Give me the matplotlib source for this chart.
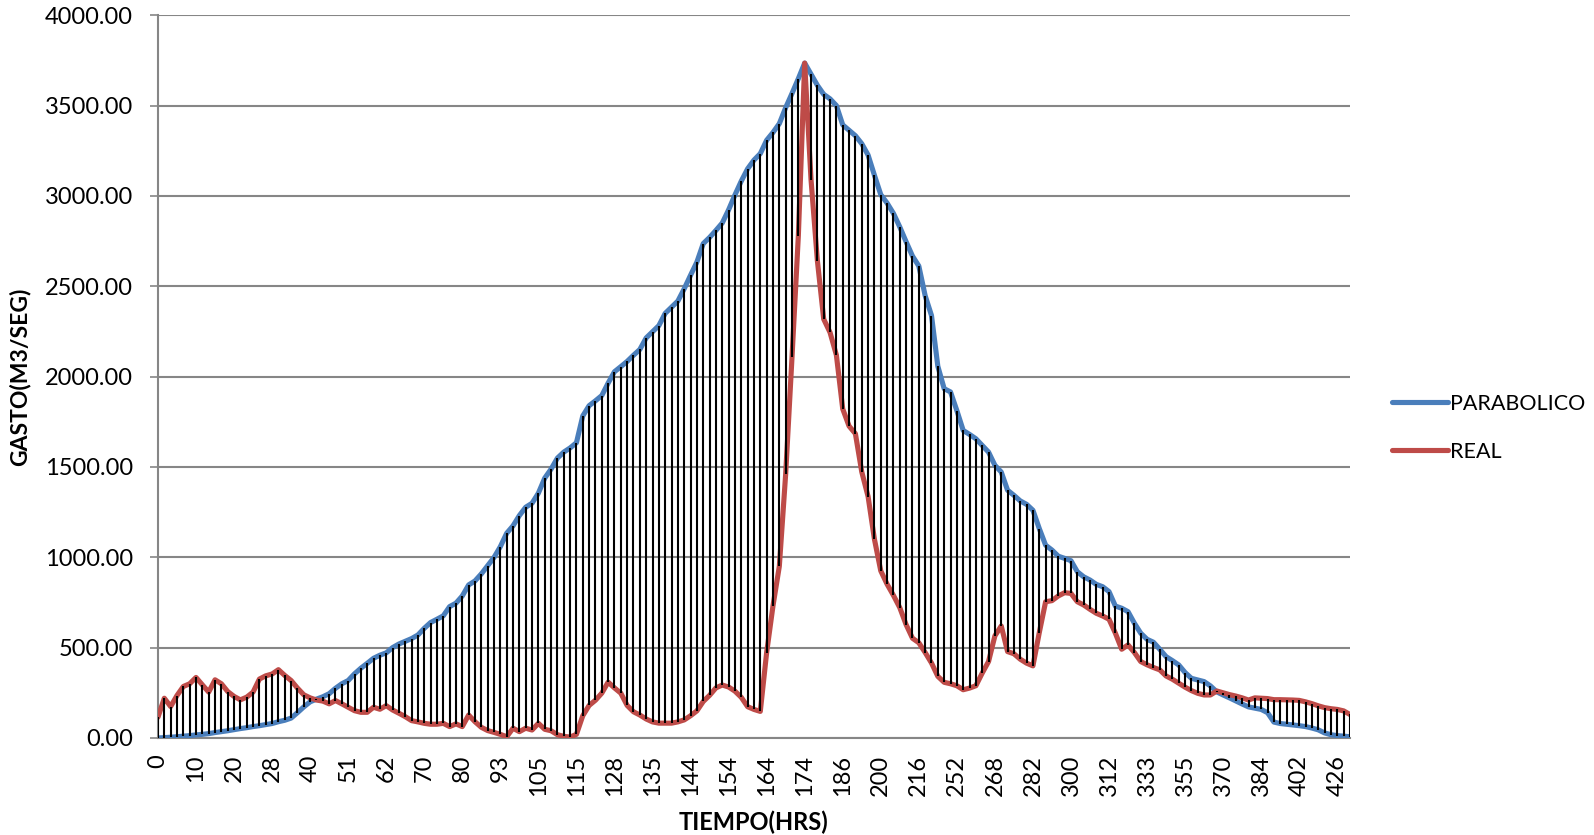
import matplotlib
matplotlib.use("Agg")
import matplotlib.pyplot as plt
import numpy as np

# x tick labels (hours), one label every 6 categories
TICK_LABELS = [0, 10, 20, 28, 40, 51, 62, 70, 80, 93, 105, 115, 128, 135, 144, 154,
               164, 174, 186, 200, 216, 252, 268, 282, 300, 312, 333, 355, 370, 384,
               402, 426]
TICK_STEP = 6

# GASTO (m3/s) per category
PARABOLICO = [
    0, 2, 4, 7, 10, 13, 17, 20, 24, 30,
    35, 40, 46, 52, 57, 63, 68, 74, 80, 90,
    98, 110, 140, 172, 200, 215, 228, 245, 275, 300,
    318, 355, 386, 413, 441, 458, 471, 500, 520, 535,
    550, 570, 607, 639, 657, 676, 727, 746, 786, 847,
    869, 908, 954, 999, 1059, 1133, 1174, 1231, 1277, 1299,
    1355, 1438, 1488, 1549, 1582, 1605, 1634, 1782, 1839, 1866,
    1895, 1964, 2027, 2055, 2084, 2118, 2150, 2214, 2248, 2282,
    2350, 2384, 2418, 2486, 2561, 2634, 2736, 2770, 2809, 2850,
    2923, 3005, 3082, 3150, 3198, 3234, 3308, 3351, 3400, 3488,
    3567, 3649, 3735, 3674, 3612, 3562, 3537, 3500, 3393, 3363,
    3333, 3289, 3226, 3114, 3007, 2960, 2903, 2828, 2746, 2667,
    2612, 2448, 2338, 2057, 1933, 1915, 1812, 1702, 1680, 1656,
    1619, 1582, 1509, 1472, 1371, 1343, 1312, 1293, 1260, 1159,
    1067, 1040, 1006, 994, 981, 920, 892, 874, 850, 837,
    810, 730, 718, 699, 635, 580, 546, 530, 491, 450,
    428, 404, 362, 330, 321, 312, 288, 255, 238, 222,
    205, 188, 172, 165, 158, 140, 88, 80, 76, 72,
    68, 63, 55, 45, 28, 18, 13, 10, 7,
]
REAL = [
    115, 220, 174, 235, 285, 300, 335, 294, 254, 322,
    300, 257, 230, 211, 226, 254, 326, 344, 354, 378,
    346, 318, 276, 239, 222, 210, 204, 189, 207, 189,
    170, 151, 142, 142, 170, 159, 179, 155, 137, 118,
    96, 89, 81, 76, 76, 81, 63, 78, 63, 127,
    90, 59, 41, 31, 20, 7, 54, 35, 54, 44,
    81, 48, 40, 18, 9, 5, 20, 123, 180, 209,
    248, 309, 277, 248, 180, 145, 127, 105, 89, 82,
    82, 82, 89, 100, 123, 150, 202, 236, 277, 293,
    282, 259, 225, 173, 158, 147, 473, 731, 950, 1460,
    2107, 2779, 3735, 3090, 2642, 2318, 2244, 2119, 1821, 1726,
    1684, 1473, 1336, 1100, 925, 851, 789, 721, 627, 552,
    527, 473, 415, 341, 308, 300, 289, 267, 276, 289,
    359, 423, 565, 620, 478, 466, 436, 414, 399, 583,
    754, 760, 786, 804, 800, 754, 736, 712, 690, 675,
    657, 580, 491, 515, 473, 423, 405, 390, 377, 343,
    325, 303, 281, 262, 247, 238, 238, 260, 250, 240,
    232, 222, 210, 222, 220, 218, 212, 212, 211, 210,
    208, 200, 190, 178, 168, 162, 158, 150, 130,
]

BLUE = "#4A7EBB"
RED = "#BE4B48"
GRID = "#868686"

plt.rcParams["font.family"] = ["Lato", "DejaVu Sans"]

fig = plt.figure(figsize=(15.94, 8.35), dpi=100)
ax = fig.add_axes([0.0991, 0.1162, 0.7478, 0.8656])

x = np.arange(len(PARABOLICO))
p = np.array(PARABOLICO, dtype=float)
r = np.array(REAL, dtype=float)

# high-low lines between the two series
ax.vlines(x, np.minimum(p, r), np.maximum(p, r), color="black", lw=1.5, zorder=4)
ax.plot(x, p, color=BLUE, lw=3.7, label="PARABOLICO",
        solid_joinstyle="round", solid_capstyle="round", zorder=3)
ax.plot(x, r, color=RED, lw=3.7, label="REAL",
        solid_joinstyle="round", solid_capstyle="round", zorder=3)

ax.set_xlim(0, len(x) - 1)
ax.set_ylim(0, 4000)
ax.set_yticks(np.arange(0, 4001, 500))
ax.set_yticklabels([f"{v:.2f}" for v in np.arange(0, 4001, 500)])
ax.set_xticks(np.arange(len(TICK_LABELS)) * TICK_STEP)
ax.set_xticklabels([str(t) for t in TICK_LABELS], rotation=90)

ax.grid(axis="y", color=GRID, lw=1.5)
ax.set_axisbelow(True)
for side in ("top", "right"):
    ax.spines[side].set_visible(False)
for side in ("left", "bottom"):
    ax.spines[side].set_color(GRID)
    ax.spines[side].set_linewidth(1.5)
ax.tick_params(axis="y", length=6, width=1.2, color=GRID, labelsize=17, pad=12)
ax.tick_params(axis="x", length=0, labelsize=17, pad=12)

ax.set_xlabel("TIEMPO(HRS)", fontsize=17, fontweight="bold", labelpad=10)
ax.set_ylabel("GASTO(M3/SEG)", fontsize=16.5, fontweight="bold", labelpad=10)

ax.legend(loc="center left", bbox_to_anchor=(0.868, 0.488), bbox_transform=fig.transFigure,
          frameon=False, fontsize=15.5, handlelength=2.6, handletextpad=0.1,
          labelspacing=1.3, borderaxespad=0)

fig.savefig("out.png", dpi=100, facecolor="white")
